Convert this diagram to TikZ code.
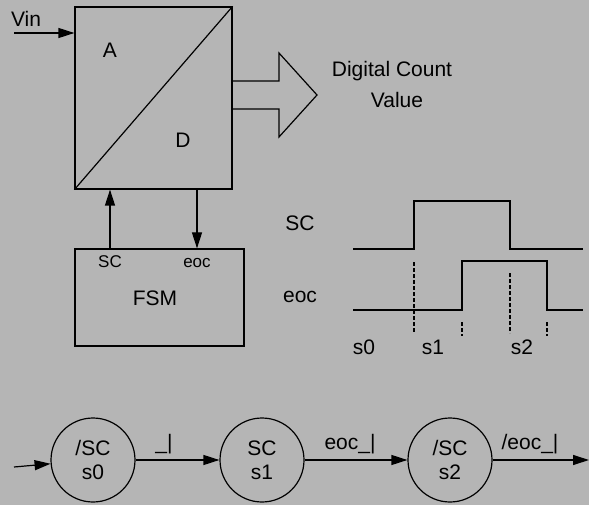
\documentclass[tikz,border=0pt]{standalone}
\usepackage{fontspec}
\setmainfont{Liberation Sans}
\usetikzlibrary{arrows.meta,calc}
\definecolor{BackClr}{rgb}{0.71,0.71,0.71}

\begin{document}
\begin{tikzpicture}[x=1pt,y=-1pt,line width=1.2pt,
  blk/.style={draw,rectangle,inner sep=0pt},
  lbl/.style={anchor=base,inner sep=0pt,font=\fontsize{21}{24}\selectfont},
  port/.style={anchor=base,inner sep=0pt,font=\fontsize{17}{20}\selectfont},
  state/.style={draw,circle,minimum size=84pt,inner sep=0pt,align=center,font=\fontsize{21}{24}\selectfont},
  sig/.style={-{Triangle[length=16pt,width=10pt]}}]

\fill[BackClr] (0,0) rectangle (589,505);
\useasboundingbox (0,0) rectangle (589,505);

\node[blk,minimum width=157pt,minimum height=182pt] (adc) at (153.5,98) {};
\draw (adc.south west) -- (adc.north east);
\node[lbl] (alabel) at (110,58) {A};
\node[lbl] (dlabel) at (183,148) {D};

\coordinate (vin) at (14,33);
\draw[sig] (vin) -- (vin -| adc.west);
\node[lbl] (vinlabel) at (26,27) {Vin};

\draw (232,81) -- (279,81) -- (279,53) -- (317,95) -- (279,137) -- (279,109) -- (232,109);
\node[lbl] (dcount) at (392,77) {Digital Count};
\node[lbl] (dvalue) at (397,108) {Value};

\node[blk,minimum width=169pt,minimum height=97pt] (fsm) at (159.5,297.5) {};
\node[lbl] (fsmlabel) at (155,305) {FSM};
\node[port] (scport) at (110,267) {SC};
\node[port] (eocport) at (197,267) {eoc};
\draw[sig] (scport |- fsm.north) -- (scport |- adc.south);
\draw[sig] (eocport |- adc.south) -- (eocport |- fsm.north);

\node[lbl] (sclabel) at (300,230) {SC};
\node[lbl] (eoclabel) at (300,302) {eoc};
\draw (353,249) -- (414,249) -- (414,201) -- (510,201) -- (510,249) -- (583,249);
\draw (353,310) -- (462,310) -- (462,261) -- (547,261) -- (547,310) -- (583,310);
\draw[dash pattern=on 4pt off 2pt] (414,262) -- (414,333);
\draw[dash pattern=on 4pt off 2pt] (462,322) -- (462,336);
\draw[dash pattern=on 4pt off 2pt] (510,273) -- (510,333);
\draw[dash pattern=on 4pt off 2pt] (547,322) -- (547,336);
\node[lbl] (t0) at (364,354) {s0};
\node[lbl] (t1) at (433,354) {s1};
\node[lbl] (t2) at (522,354) {s2};

\node[state] (s0) at (93,460) {/SC\\s0};
\node[state] (s1) at (262,460) {SC\\s1};
\node[state] (s2) at (450,460) {/SC\\s2};
\coordinate (init) at (14,467);
\coordinate (out) at (589,460);
\draw[sig] (init) -- (s0);
\draw[sig] (s0) -- (s1);
\draw[sig] (s1) -- (s2);
\draw[sig] (s2) -- (out);
\node[lbl] (e01) at (164,449) {\_|};
\node[lbl] (e12) at (350,449) {eoc\_|};
\node[lbl] (e23) at (530,449) {/eoc\_|};

\end{tikzpicture}
\end{document}
